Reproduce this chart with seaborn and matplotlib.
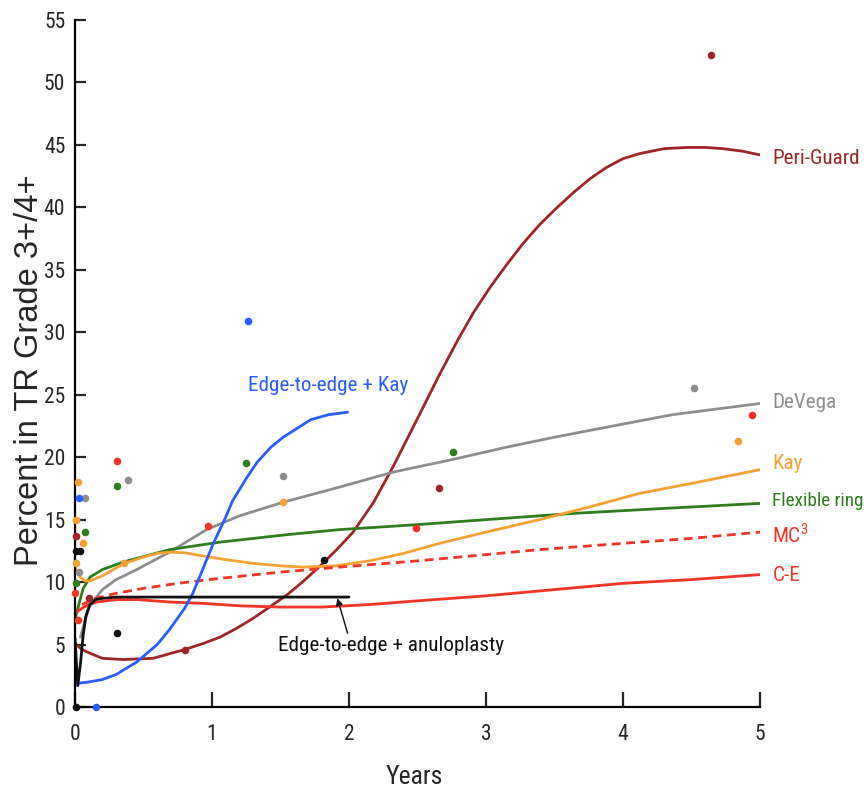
import matplotlib
matplotlib.use("Agg")
import matplotlib.pyplot as plt
import seaborn as sns
import pandas as pd

# ---------------- data ----------------
years_ticks = [0, 1, 2, 3, 4, 5]
pct_ticks = [0, 5, 10, 15, 20, 25, 30, 35, 40, 45, 50, 55]

periguard_x = [0.0, 0.05, 0.11, 0.2, 0.35, 0.57, 0.8, 0.94, 1.06, 1.18, 1.3, 1.42, 1.55, 1.67,
               1.79, 1.91, 2.03, 2.18, 2.32, 2.5, 2.66, 2.8, 2.91, 3.03, 3.15, 3.27, 3.39,
               3.52, 3.64, 3.76, 3.88, 4.0, 4.12, 4.3, 4.47, 4.6, 4.73, 4.87, 5.0]
periguard_y = [5.1, 4.6, 4.3, 3.9, 3.8, 3.9, 4.6, 5.1, 5.6, 6.3, 7.1, 8.0, 9.0, 10.1,
               11.3, 12.6, 14.0, 16.4, 19.2, 23.1, 26.6, 29.5, 31.6, 33.6, 35.4, 37.1, 38.6,
               40.0, 41.2, 42.3, 43.2, 43.9, 44.3, 44.7, 44.8, 44.8, 44.7, 44.5, 44.2]

devega_x = [0.04, 0.1, 0.2, 0.3, 0.45, 0.69, 0.96, 1.2, 1.52, 1.93, 2.32, 2.75, 3.15,
            3.5, 3.88, 4.36, 5.0]
devega_y = [5.6, 8.0, 9.4, 10.2, 11.0, 12.4, 14.2, 15.3, 16.4, 17.6, 18.8, 19.8, 20.8,
            21.6, 22.4, 23.4, 24.3]

kay_x = [0.0, 0.03, 0.07, 0.11, 0.2, 0.36, 0.5, 0.6, 0.7, 0.8, 0.93, 1.1, 1.3, 1.5, 1.66,
         1.9, 2.15, 2.4, 2.66, 3.0, 3.39, 3.75, 4.12, 4.5, 5.0]
kay_y = [11.2, 10.5, 10.1, 10.1, 10.5, 11.5, 12.0, 12.3, 12.4, 12.35, 12.1, 11.8, 11.5, 11.3,
         11.2, 11.3, 11.7, 12.3, 13.1, 14.0, 15.0, 16.0, 17.1, 17.9, 19.0]

flex_x = [0.0, 0.03, 0.06, 0.11, 0.2, 0.35, 0.69, 1.06, 1.55, 1.93, 2.5, 3.0, 3.64, 4.3, 5.0]
flex_y = [7.0, 8.3, 9.5, 10.4, 11.0, 11.6, 12.6, 13.2, 13.8, 14.2, 14.6, 15.0, 15.5, 15.9, 16.3]

mc3_x = [0.05, 0.15, 0.3, 0.5, 0.75, 1.06, 1.5, 1.93, 2.5, 3.0, 3.39, 4.0, 4.5, 5.0]
mc3_y = [8.2, 8.7, 9.1, 9.5, 9.9, 10.3, 10.8, 11.2, 11.7, 12.2, 12.6, 13.1, 13.5, 14.0]

ce_x = [0.0, 0.05, 0.1, 0.16, 0.3, 0.45, 0.7, 0.93, 1.2, 1.5, 1.8, 2.15, 2.5, 3.0, 3.5,
        4.0, 4.5, 5.0]
ce_y = [7.5, 7.9, 8.2, 8.4, 8.6, 8.6, 8.4, 8.3, 8.1, 8.0, 8.0, 8.2, 8.5, 8.9, 9.4,
        9.9, 10.2, 10.6]

e2ekay_x = [0.02, 0.1, 0.2, 0.3, 0.45, 0.6, 0.69, 0.8, 0.86, 0.95, 1.01, 1.1, 1.15, 1.25,
            1.33, 1.43, 1.52, 1.62, 1.72, 1.85, 1.99]
e2ekay_y = [1.9, 2.0, 2.2, 2.6, 3.6, 5.0, 6.2, 7.9, 9.1, 11.5, 13.1, 15.2, 16.5, 18.3,
            19.6, 20.8, 21.6, 22.3, 23.0, 23.4, 23.6]

e2eanu_x = [0.0, 0.02, 0.04, 0.06, 0.08, 0.11, 0.15, 0.2, 0.3, 0.5, 1.0, 1.5, 2.0]
e2eanu_y = [5.5, 1.7, 3.5, 5.8, 7.3, 8.2, 8.6, 8.7, 8.8, 8.8, 8.8, 8.8, 8.8]

# observed points
pts_periguard_x = [0.01, 0.10, 0.80, 2.66, 4.64]
pts_periguard_y = [13.7, 8.7, 4.6, 17.5, 52.2]
pts_red_x = [0.00, 0.02, 0.31, 0.97, 2.49, 4.94]
pts_red_y = [9.1, 7.0, 19.7, 14.5, 14.3, 23.4]
pts_kay_x = [0.02, 0.01, 0.06, 0.01, 0.36, 1.52, 4.84]
pts_kay_y = [18.0, 15.0, 13.1, 11.5, 11.5, 16.4, 21.3]
pts_flex_x = [0.07, 0.01, 0.31, 1.25, 2.76]
pts_flex_y = [14.0, 9.9, 17.7, 19.5, 20.4]
pts_devega_x = [0.07, 0.03, 0.39, 1.52, 4.52]
pts_devega_y = [16.7, 10.8, 18.2, 18.5, 25.5]
pts_e2ekay_x = [0.03, 0.15, 1.26]
pts_e2ekay_y = [16.7, 0.0, 30.9]
pts_e2eanu_x = [0.01, 0.04, 0.31, 1.82, 0.01]
pts_e2eanu_y = [12.5, 12.5, 5.9, 11.8, 0.0]

# ---------------- style ----------------
sns.set_style("ticks")
plt.rcParams["font.family"] = ["Roboto Condensed", "Liberation Sans", "DejaVu Sans"]
plt.rcParams["mathtext.fontset"] = "custom"
plt.rcParams["mathtext.rm"] = "Roboto Condensed"

C_BROWN = "#9E2628"
C_RED = "#EE3527"
C_ORANGE = "#F6A133"
C_GREEN = "#2F7D1F"
C_GRAY = "#8E8E8E"
C_BLUE = "#2B5CFF"
C_BLACK = "#111111"

fig = plt.figure(figsize=(8.66, 7.98), dpi=100)
ax = fig.add_axes([75 / 866, 91 / 798, 685 / 866, 687 / 798])

LW = 2.0
curves = [
    (periguard_x, periguard_y, C_BROWN, "-"),
    (devega_x, devega_y, C_GRAY, "-"),
    (flex_x, flex_y, C_GREEN, "-"),
    (kay_x, kay_y, C_ORANGE, "-"),
    (mc3_x, mc3_y, C_RED, (0, (3.2, 2.0))),
    (ce_x, ce_y, C_RED, "-"),
    (e2ekay_x, e2ekay_y, C_BLUE, "-"),
    (e2eanu_x, e2eanu_y, C_BLACK, "-"),
]
for xs, ys, col, ls in curves:
    df = pd.DataFrame({"x": xs, "y": ys})
    sns.lineplot(data=df, x="x", y="y", ax=ax, color=col, lw=LW, linestyle=ls,
                 sort=False, estimator=None)

points = [
    (pts_periguard_x, pts_periguard_y, C_BROWN),
    (pts_red_x, pts_red_y, C_RED),
    (pts_kay_x, pts_kay_y, C_ORANGE),
    (pts_flex_x, pts_flex_y, C_GREEN),
    (pts_devega_x, pts_devega_y, C_GRAY),
    (pts_e2ekay_x, pts_e2ekay_y, C_BLUE),
    (pts_e2eanu_x, pts_e2eanu_y, C_BLACK),
]
for xs, ys, col in points:
    df = pd.DataFrame({"x": xs, "y": ys})
    sns.scatterplot(data=df, x="x", y="y", ax=ax, color=col, s=30, linewidth=0,
                    zorder=5, clip_on=False)

ax.set_xlim(0, 5)
ax.set_ylim(0, 55)
ax.set_xticks(years_ticks)
ax.set_yticks(pct_ticks)
ax.set_xticklabels([str(v) for v in years_ticks])
ax.set_yticklabels([str(v) for v in pct_ticks])
sns.despine(ax=ax)
for sp in ["left", "bottom"]:
    ax.spines[sp].set_linewidth(1.6)
    ax.spines[sp].set_color("black")
ax.tick_params(axis="y", direction="in", length=8, width=1.6, labelsize=15.5, pad=7)
ax.tick_params(axis="x", direction="in", length=11, width=1.6, labelsize=15.5, pad=12)

ax.set_xlabel("Years", fontsize=18.5)
ax.xaxis.set_label_coords(0.496, -0.084)
ax.set_ylabel("Percent in TR Grade 3+/4+", fontsize=23.5,
              family=["Liberation Sans", "DejaVu Sans"], va="center")
ax.yaxis.set_label_coords(-0.066, 0.49)

lab_fs = 15.2
ax.text(5.09, 43.95, "Peri-Guard", color=C_BROWN, fontsize=lab_fs, va="center", ha="left", clip_on=False)
ax.text(5.09, 24.4, "DeVega", color=C_GRAY, fontsize=lab_fs, va="center", ha="left", clip_on=False)
ax.text(5.09, 19.5, "Kay", color=C_ORANGE, fontsize=lab_fs, va="center", ha="left", clip_on=False)
ax.text(5.085, 16.5, "Flexible ring", color=C_GREEN, fontsize=13.9, va="center", ha="left", clip_on=False)
ax.text(5.09, 13.8, r"MC$^{\mathregular{3}}$", color=C_RED, fontsize=lab_fs, va="center", ha="left", clip_on=False)
ax.text(5.09, 10.5, "C-E", color=C_RED, fontsize=lab_fs, va="center", ha="left", clip_on=False)
ax.text(1.263, 25.7, "Edge-to-edge + Kay", color=C_BLUE, fontsize=lab_fs, va="center", ha="left")
ax.text(1.482, 4.96, "Edge-to-edge + anuloplasty", color=C_BLACK, fontsize=lab_fs, va="center", ha="left")
ax.annotate("", xy=(1.915, 8.7), xytext=(1.99, 5.9),
            arrowprops=dict(arrowstyle="-|>", color=C_BLACK, lw=1.0, mutation_scale=10,
                            shrinkA=0, shrinkB=0))

fig.savefig("out.png", dpi=100)
